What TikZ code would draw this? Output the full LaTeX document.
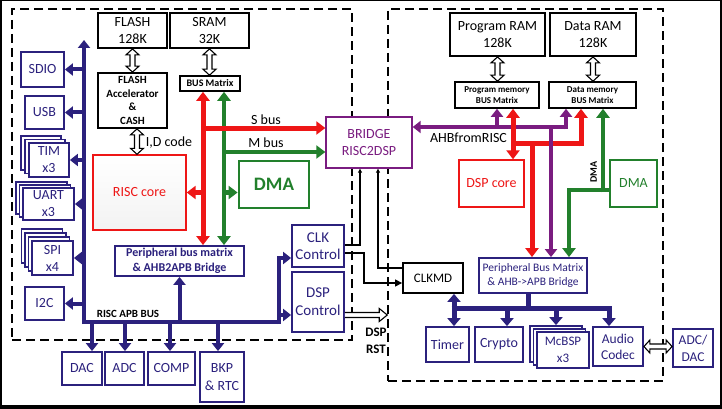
\documentclass[tikz,border=0pt]{standalone}
\usepackage{fontspec}
\setmainfont{Carlito}
\usetikzlibrary{arrows.meta,calc}
\definecolor{navy}{RGB}{43,33,125}
\definecolor{myred}{RGB}{238,22,22}
\definecolor{mygreen}{RGB}{34,128,44}
\definecolor{mypurple}{RGB}{122,28,128}
\newcommand\hollowV[2]{%
 \draw[hollowarrow] let \p1=#1, \p2=#2 in
  (\x1,\y1) -- (\x1+6.5pt,\y1-6pt) -- (\x1+2.5pt,\y1-6pt) -- (\x1+2.5pt,\y2+6pt) -- (\x1+6.5pt,\y2+6pt) -- (\x1,\y2)
  -- (\x1-6.5pt,\y2+6pt) -- (\x1-2.5pt,\y2+6pt) -- (\x1-2.5pt,\y1-6pt) -- (\x1-6.5pt,\y1-6pt) -- cycle;}
\newcommand\hollowH[2]{%
 \draw[hollowarrow] let \p1=#1, \p2=#2 in
  (\x1,\y1) -- (\x1+6pt,\y1+6.5pt) -- (\x1+6pt,\y1+2.5pt) -- (\x2-6pt,\y1+2.5pt) -- (\x2-6pt,\y1+6.5pt) -- (\x2,\y1)
  -- (\x2-6pt,\y1-6.5pt) -- (\x2-6pt,\y1-2.5pt) -- (\x1+6pt,\y1-2.5pt) -- (\x1+6pt,\y1-6.5pt) -- cycle;}
\newcommand\hollowR[2]{%
 \draw[hollowarrow] let \p1=#1, \p2=#2 in
  (\x1,\y1+2.5pt) -- (\x2-8pt,\y1+2.5pt) -- (\x2-8pt,\y1+6.5pt) -- (\x2,\y1) -- (\x2-8pt,\y1-6.5pt) -- (\x2-8pt,\y1-2.5pt) -- (\x1,\y1-2.5pt);}
\begin{document}
\begin{tikzpicture}[x=1pt,y=-1pt,
  every node/.style={inner sep=0pt, align=center},
  kbox/.style={draw=black, line width=1.8pt, fill=white},
  nbox/.style={draw=navy, line width=1.8pt, fill=white, text=navy},
  rbox/.style={draw=myred, line width=1.4pt, text=myred, fill=white},
  pbox/.style={draw=mypurple, line width=1.4pt, text=mypurple, fill=white},
  dom/.style={draw=black, line width=1.5pt, dash pattern=on 9pt off 5pt},
  hollowarrow/.style={draw=black, fill=white, line width=1.1pt, line join=miter},
  f14/.style={font=\fontsize{14}{17}\selectfont},
  f13/.style={font=\fontsize{13}{17}\selectfont},
  NL/.style={draw=navy, line width=4pt},
  NA/.style={NL, -{Triangle[width=12pt,length=8pt]}},
  NL2/.style={draw=navy, line width=5pt},
  NA2/.style={NL2, -{Triangle[width=13pt,length=8pt]}},
  NAA2/.style={NL2, {Triangle[width=13pt,length=8pt]}-{Triangle[width=13pt,length=8pt]}},
  RL/.style={draw=myred, line width=5pt},
  RA/.style={RL, -{Triangle[width=13pt,length=9pt]}},
  RAA/.style={RL, {Triangle[width=13pt,length=9pt]}-{Triangle[width=13pt,length=9pt]}},
  GL/.style={draw=mygreen, line width=4.5pt},
  GA/.style={GL, -{Triangle[width=13pt,length=9pt]}},
  GAA/.style={GL, {Triangle[width=13pt,length=9pt]}-{Triangle[width=13pt,length=9pt]}},
  PL/.style={draw=mypurple, line width=4.5pt},
  PA/.style={PL, -{Triangle[width=12pt,length=8pt]}},
  KL/.style={draw=black, line width=1.2pt},
  KA/.style={KL, -{Triangle[width=7pt,length=7pt]}},
  KS/.style={KL, -{Triangle[width=4pt,length=4pt]}}
]
\fill[black] (0,0) rectangle (722,409);
\fill[white] (1.5,1.5) rectangle (719.5,405);
\useasboundingbox (0,0) rectangle (722,409);

% domains
\node[dom, minimum width=340, minimum height=331] (domL) at (182,174.5) {};
\node[dom, minimum width=275, minimum height=372] (domR) at (525.5,195) {};

% ---- RISC side boxes
\node[kbox, f14, minimum width=69, minimum height=35] (flash) at (132.5,30.5) {FLASH\\128K};
\node[kbox, f14, minimum width=79, minimum height=35] (sram) at (209.5,30.5) {SRAM\\32K};
\node[kbox, font=\bfseries\fontsize{11}{13.5}\selectfont, minimum width=69, minimum height=55] (accel) at (132.5,100.5) {FLASH\\Accelerator\\\&\\CASH};
\node[kbox, line width=1.6pt, font=\bfseries\fontsize{10}{12}\selectfont, minimum width=60, minimum height=15] (busm) at (210,83.5) {BUS Matrix};
\node[rbox, top color=white, bottom color=black!5, f14, minimum width=93, minimum height=75] (risc) at (139.5,192.5) {RISC core};
\node[draw=mygreen, line width=2.8pt, text=mygreen, fill=white, font=\bfseries\fontsize{19}{22}\selectfont, minimum width=70, minimum height=47] (dmaL) at (274,184.5) {DMA};
\node[pbox, f14, minimum width=86, minimum height=51] (bridge) at (369,142.5) {BRIDGE\\RISC2DSP};
\node[nbox, font=\bfseries\fontsize{12}{14.5}\selectfont, minimum width=129, minimum height=30] (pbmL) at (179.5,261) {Peripheral bus matrix\\\& AHB2APB Bridge};
\node[nbox, font=\fontsize{15}{16.5}\selectfont, minimum width=52, minimum height=42] (clkc) at (318,246) {CLK\\Control};
\node[nbox, font=\fontsize{15}{18}\selectfont, minimum width=52, minimum height=60] (dspc) at (318,302) {DSP\\Control};

\node[nbox, f14, minimum width=43, minimum height=35] (sdio) at (42.5,69.5) {SDIO};
\node[nbox, f14, minimum width=39, minimum height=33] (usb) at (44.5,112.5) {USB};
\node[nbox, minimum width=40, minimum height=34] (tim2) at (41,153) {};
\node[nbox, minimum width=40, minimum height=34] (tim1) at (45,156.5) {};
\node[nbox, f14, minimum width=40, minimum height=34] (tim) at (49,160) {TIM\\x3};
\node[nbox, minimum width=51, minimum height=32] (uart2) at (41.5,198) {};
\node[nbox, minimum width=51, minimum height=32] (uart1) at (45,201) {};
\node[nbox, f14, minimum width=51, minimum height=32] (uart) at (48.5,204) {UART\\x3};
\node[nbox, minimum width=41, minimum height=34] (spi3) at (42,246) {};
\node[nbox, minimum width=41, minimum height=34] (spi2) at (45.5,250) {};
\node[nbox, minimum width=41, minimum height=34] (spi1) at (49,254) {};
\node[nbox, f14, minimum width=41, minimum height=34] (spi) at (52.5,258) {SPI\\x4};
\node[nbox, f14, minimum width=39, minimum height=33] (i2c) at (44.5,303.5) {I2C};
\node[nbox, f14, minimum width=40, minimum height=33] (dac) at (82,368.5) {DAC};
\node[nbox, f14, minimum width=39, minimum height=33] (adc) at (124.5,368.5) {ADC};
\node[nbox, f14, minimum width=47, minimum height=33] (comp) at (171.5,368.5) {COMP};
\node[nbox, font=\fontsize{14}{18}\selectfont, minimum width=44, minimum height=50] (bkp) at (222,377) {BKP\\\& RTC};

% ---- DSP side boxes
\node[kbox, f14, minimum width=95, minimum height=43] (pram) at (497.5,34.5) {Program RAM\\128K};
\node[kbox, f14, minimum width=86, minimum height=43] (dram) at (593,34.5) {Data RAM\\128K};
\node[kbox, line width=1.6pt, font=\bfseries\fontsize{9}{11}\selectfont, minimum width=84, minimum height=26] (pmbm) at (497,95) {Program memory\\BUS Matrix};
\node[kbox, line width=1.6pt, font=\bfseries\fontsize{9}{11}\selectfont, minimum width=87, minimum height=26] (dmbm) at (592.5,95) {Data memory\\BUS Matrix};
\node[rbox, f14, minimum width=65, minimum height=47] (dspcore) at (491.5,183.5) {DSP core};
\node[draw=mygreen, line width=1.6pt, text=mygreen, fill=white, f14, minimum width=47, minimum height=47] (dmaR) at (633.5,183.5) {DMA};
\node[nbox, font=\fontsize{11.5}{14}\selectfont, minimum width=108, minimum height=35] (pbmR) at (533,275.5) {Peripheral Bus Matrix\\\& AHB->APB Bridge};
\node[kbox, f13, minimum width=60, minimum height=30] (clkmd) at (433,278) {CLKMD};
\node[nbox, f14, minimum width=43, minimum height=35] (timer) at (447.5,344.5) {Timer};
\node[nbox, f14, minimum width=48, minimum height=35] (crypto) at (499,344.5) {Crypto};
\node[nbox, minimum width=52, minimum height=36] (mcb2) at (556,344) {};
\node[nbox, minimum width=52, minimum height=36] (mcb1) at (559.5,347) {};
\node[nbox, f13, minimum width=52, minimum height=36] (mcbsp) at (563,350) {McBSP\\x3};
\node[nbox, font=\fontsize{13.5}{16}\selectfont, minimum width=50, minimum height=39] (audio) at (618,346.5) {Audio\\Codec};
\node[nbox, font=\fontsize{13.5}{17}\selectfont, minimum width=40, minimum height=38] (adcdac) at (693,348) {ADC/\\DAC};

% ---- hollow arrows
\hollowV{(flash.south)}{(accel.north)}
\hollowV{(sram.south)}{(busm.north)}
\hollowV{($(accel.south)+(4.5,0)$)}{(risc.north)}
\hollowV{(pram.south)}{(pmbm.north)}
\hollowV{(dram.south)}{(dmbm.north)}
\hollowH{(audio.east)}{(adcdac.west)}
\hollowR{($(dspc.east)+(0,13)$)}{($(domR.west)+(0,120)$)}

% ---- left navy bus
\coordinate (lbtop) at (84,40);
\coordinate (lbc) at (84,322);
\coordinate (feed) at (279,322);
\draw[NL] (lbc) -- (feed);
\draw[NA] ($(lbc)+(0,2)$) -- (lbtop);
\foreach \n in {sdio,usb,tim,uart,spi,i2c} \draw[NA] (\n.east -| lbtop) -- (\n.east);
\draw[NA] ($(feed)+(0,2)$) |- ($(clkc.west)+(0,12)$);
\draw[NA] (feed) |- ($(dspc.west)+(0,13)$);
\draw[NA] (pbmL.south |- lbc) -- (pbmL.south);
\path ($(dac.north)+(10,0)$) coordinate (dacin) ($(adc.north)+(0.5,0)$) coordinate (adcin)
      ($(comp.north)+(-1.5,0)$) coordinate (compin) ($(bkp.north)+(-4,0)$) coordinate (bkpin);
\foreach \c in {dacin,adcin,compin,bkpin} \draw[NA] (\c |- lbc) -- (\c);

% ---- left red/green buses
\coordinate (rx) at ($(busm.south)+(-7,0)$);
\coordinate (gx) at ($(busm.south)+(14,0)$);
\coordinate (sb) at ($(bridge.west)+(0,-14.5)$);
\coordinate (mb) at ($(bridge.west)+(0,9.5)$);
\draw[GAA] (gx) -- (gx |- pbmL.north);
\draw[GA] (gx |- mb) -- (mb);
\draw[GA] (gx |- risc.east) -- (dmaL.west |- risc.east);
\draw[RAA] (rx) -- (rx |- pbmL.north);
\draw[RA] (rx |- sb) -- (sb);
\draw[RA] (rx |- risc.east) -- (risc.east);
\node[f14] (sbl) at (266,120) {S bus};
\node[f14] (mbl) at (266,143) {M bus};
\node[f14] (idl) at (169,143) {I,D code};
\node[font=\bfseries\fontsize{11}{13}\selectfont] (apbl) at (128,314) {RISC APB BUS};

% ---- right side buses
\coordinate (ahbE) at ($(bridge.east)+(0,-15.5)$);
\coordinate (pdm) at ($(dmbm.south)+(-26.5,0)$);
\coordinate (pcorner) at (pdm |- ahbE);
\draw[PA] (pcorner) -- (ahbE);
\draw[PA] ($(pcorner)+(0,2.25)$) -- (pdm);
\draw[PA] (pmbm.south |- ahbE) -- (pmbm.south);
\node[f14] (ahbl) at (468.5,138) {AHBfromRISC};

\coordinate (rPM) at ($(pmbm.south)+(16,0)$);
\coordinate (rDM) at ($(dmbm.south)+(-11.5,0)$);
\coordinate (rj) at ($(rDM)+(0,35)$);
\coordinate (rPB) at ($(pbmR.north)+(-1,0)$);
\draw[RAA] (rPM) -- (rPM |- dspcore.north);
\draw[RA] ($(rj)+(0,2.5)$) -- (rDM);
\draw[RL] (rPM |- rj) -- (rj);
\draw[RA] (rPB |- rj) -- (rPB);

\coordinate (pPB) at ($(pbmR.north)+(18,0)$);
\draw[PA] (pPB |- ahbE) -- (pPB);

\coordinate (gD) at ($(dmaR.west)+(0,6.5)$);
\coordinate (gPB) at ($(pbmR.north)+(36,0)$);
\coordinate (gDM) at ($(dmbm.south)+(10.5,0)$);
\coordinate (gcorner) at (gDM |- gD);
\draw[GA] (gD) -| (gPB);
\draw[GA] ($(gcorner)+(0,2.25)$) -- (gDM);
\node[font=\bfseries\fontsize{10}{12}\selectfont, rotate=90] (dmalbl) at (593.5,172) {DMA};

% ---- right navy bus
\coordinate (nbj) at ($(pbmR.south)+(-5,15)$);
\coordinate (tx) at ($(timer.north)+(6.5,0)$);
\coordinate (cx) at ($(crypto.north)+(8,0)$);
\coordinate (ax) at ($(audio.north)+(-9,0)$);
\coordinate (nbL) at (tx |- nbj);
\coordinate (nbR) at (ax |- nbj);
\draw[NL2] ($(pbmR.south)+(-5,0)$) -- (nbj);
\draw[NL2] ($(nbL)+(-2.5,0)$) -- ($(nbR)+(2.5,0)$);
\draw[NAA2] (tx |- clkmd.south) -- (tx);
\draw[NA2] (cx |- nbj) -- (cx);
\draw[NA2] (mcb2.north |- nbj) -- (mcb2.north);
\draw[NA2] (nbR) -- (ax);

% ---- black clock lines
\coordinate (b1) at ($(bridge.south)+(-9,0)$);
\coordinate (b2) at ($(bridge.south)+(9,0)$);
\draw[KS] ($(clkc.east)+(0,-1)$) -| (b1);
\draw[KA] ($(clkc.east)+(0,7)$) -- ++(19,0) |- ($(clkmd.west)+(0,5)$);
\draw[KS] ($(clkmd.west)+(0,-10)$) -| (b2);
\node[font=\bfseries\fontsize{13}{17}\selectfont] (rstl) at (376,341) {DSP\\RST};
\end{tikzpicture}
\end{document}
